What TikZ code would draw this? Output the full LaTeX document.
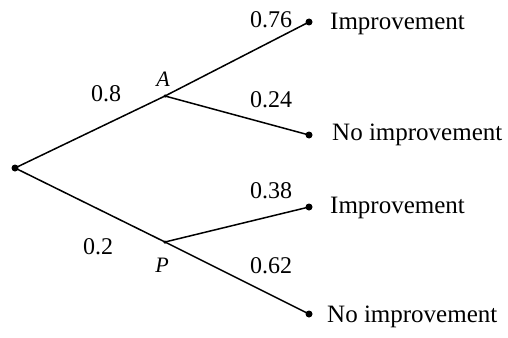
\documentclass[tikz,border=0pt]{standalone}
\usepackage{fontspec}
\setmainfont{Liberation Serif}
\begin{document}
\begin{tikzpicture}[x=1pt,y=-1pt,
  branch/.style={line width=1.5pt},
  dotn/.style={circle,fill=black,inner sep=0pt,minimum size=7pt},
  smalldot/.style={circle,fill=black,inner sep=0pt,minimum size=3.5pt},
  prob/.style={inner sep=0pt,font=\fontsize{24}{24}\selectfont},
  outc/.style={inner sep=0pt,anchor=west,font=\fontsize{25}{25}\selectfont},
  lab/.style={inner sep=0pt,font=\fontsize{22}{22}\selectfont\itshape}]
\useasboundingbox (0,0) rectangle (508,337);
\node[dotn] (r) at (15,168) {};
\node[smalldot] (a) at (165,96) {};
\node[smalldot] (p) at (165,242) {};
\node[dotn] (l1) at (309,22) {};
\node[dotn] (l2) at (309,135) {};
\node[dotn] (l3) at (309,207) {};
\node[dotn] (l4) at (309,314) {};
\draw[branch] (r.center) -- (a.center);
\draw[branch] (r.center) -- (p.center);
\draw[branch] (a.center) -- (l1.center);
\draw[branch] (a.center) -- (l2.center);
\draw[branch] (p.center) -- (l3.center);
\draw[branch] (p.center) -- (l4.center);
\node[lab] (la) at (163,79) {A};
\node[lab] (lp) at (162,265) {P};
\node[prob] (p1) at (106,94) {0.8};
\node[prob] (p2) at (98,247) {0.2};
\node[prob] (p3) at (271,20) {0.76};
\node[prob] (p4) at (271,100) {0.24};
\node[prob] (p5) at (271,191) {0.38};
\node[prob] (p6) at (271,266) {0.62};
\node[outc] (t1) at (330,24) {Improvement};
\node[outc] (t2) at (332,135) {No improvement};
\node[outc] (t3) at (330,208) {Improvement};
\node[outc] (t4) at (327,317) {No improvement};
\end{tikzpicture}
\end{document}
